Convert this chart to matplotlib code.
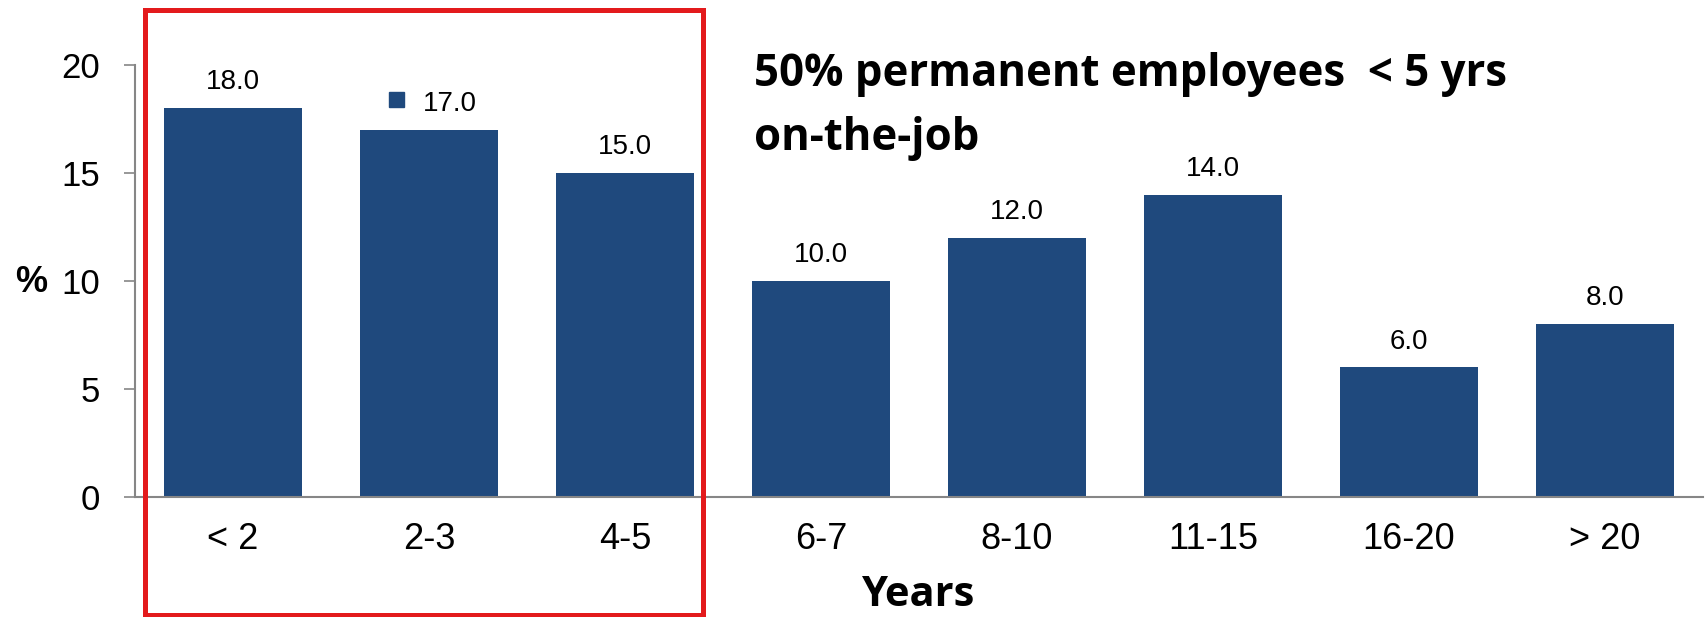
import matplotlib.pyplot as plt
from matplotlib.patches import Rectangle
from matplotlib.transforms import ScaledTranslation

# dados
categorias = ['< 2', '2-3', '4-5', '6-7', '8-10', '11-15', '16-20', '> 20']
valores = [18.0, 17.0, 15.0, 10.0, 12.0, 14.0, 6.0, 8.0]
yticks = [0, 5, 10, 15, 20]

cor_barra = '#1F497D'
cinza = '#868686'
W, H = 1706, 617

plt.rcParams['font.family'] = ['Liberation Sans', 'DejaVu Sans']

fig = plt.figure(figsize=(W / 100, H / 100), dpi=100)
ax = fig.add_axes([135 / W, 1 - 497 / H, (1703 - 135) / W, (497 - 65) / H])

x = range(len(categorias))
ax.bar(x, valores, width=0.70, color=cor_barra)

ax.set_xlim(-0.5, 7.5)
ax.set_ylim(0, 20)
ax.set_yticks(yticks)
ax.set_xticks(list(x))
ax.set_xticklabels(categorias)

for s in ['top', 'right']:
    ax.spines[s].set_visible(False)
for s in ['left', 'bottom']:
    ax.spines[s].set_color(cinza)
    ax.spines[s].set_linewidth(1.5)

ax.tick_params(axis='y', length=8, width=1.2, color=cinza, pad=17, labelsize=25)
ax.tick_params(axis='x', length=0, pad=18, labelsize=26)

# rótulos de valor
for i, v in enumerate(valores):
    dx = 14.8 if i == 1 else 0
    ax.annotate(f'{v:.1f}', (i, v), xytext=(dx, 13.5), textcoords='offset points',
                ha='center', va='baseline', fontsize=20)

# quadradinho da legenda junto ao 17.0
desloc = ScaledTranslation(-0.33, 0.31, fig.dpi_scale_trans)
ax.plot([1], [valores[1]], marker='s', ms=10.8, color=cor_barra, linestyle='none',
        transform=ax.transData + desloc, clip_on=False)

fig.text(31 / W, 1 - 282 / H, '%', fontsize=26, fontweight='bold',
         ha='center', va='center')

fonte_titulo = ['Open Sans', 'DejaVu Sans']
fig.text(919 / W, 1.5 / H, 'Years', fontsize=30, fontweight='bold',
         family=fonte_titulo, ha='center', va='bottom')

fig.text(754 / W, 1 - 86 / H, '50% permanent employees  < 5 yrs',
         fontsize=31.5, fontweight='bold', family=fonte_titulo,
         ha='left', va='baseline')
fig.text(754 / W, 1 - 150 / H, 'on-the-job',
         fontsize=31.5, fontweight='bold', family=fonte_titulo,
         ha='left', va='baseline')

# caixa vermelha
fig.patches.append(Rectangle((145.5 / W, 1 - 614.5 / H), 558 / W, 605 / H,
                             transform=fig.transFigure, fill=False,
                             edgecolor='#E31A1C', linewidth=3.6))

fig.savefig('out.png', dpi=100)
